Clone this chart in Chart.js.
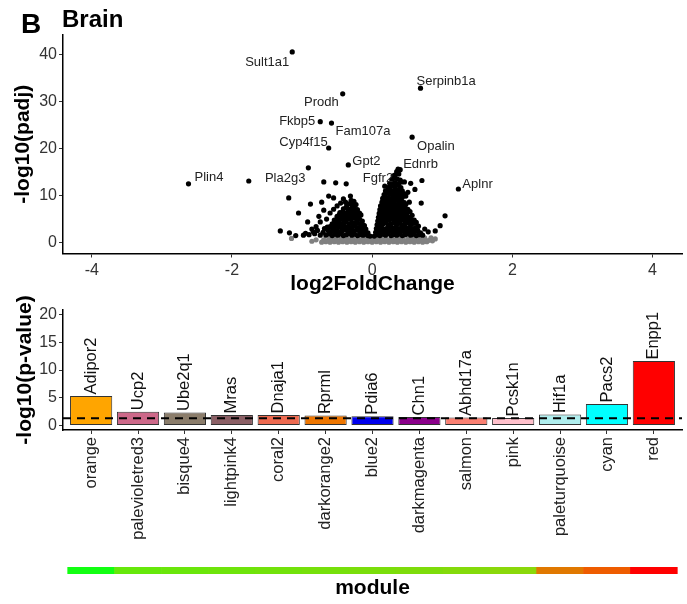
<!DOCTYPE html>
<html>
<head>
<meta charset="utf-8">
<script src="https://cdn.jsdelivr.net/npm/chart.js@4.4.0/dist/chart.umd.min.js"></script>
<style>
  body { margin: 0; background: #fff; }
  #wrap { position: relative; width: 687px; height: 604px; }
  canvas { position: absolute; left: 0; }
</style>
</head>
<body>
<div id="wrap">
  <canvas id="volcano" width="687" height="300" style="top:0px"></canvas>
  <canvas id="bars" width="687" height="265" style="top:290px"></canvas>
  <canvas id="strip" width="687" height="49" style="top:555px"></canvas>
</div>
<script>
// ---- volcano data ----
const fcTicks = [-4, -2, 0, 2, 4];
const padjTicks = [0, 10, 20, 30, 40];

const labelGenes = ['Sult1a1', 'Prodh', 'Fkbp5', 'Fam107a', 'Cyp4f15', 'Serpinb1a', 'Opalin',
                    'Gpt2', 'Ednrb', 'Fgfr2', 'Aplnr', 'Plin4', 'Pla2g3'];
const labelFC   = [-1.14, -0.42, -0.74, -0.58, -0.62, 0.69, 0.57, -0.34, 0.40, 0.30, 1.23, -2.62, -0.91];
const labelPadj = [40.5, 31.6, 25.7, 25.4, 20.1, 32.8, 22.4, 16.5, 15.5, 14.2, 11.4, 12.5, 15.9];

// significant genes (black)
const sigPoints = [
  [-1.76,13.1],[-0.69,12.9],[-0.52,12.7],[-0.37,12.5],[-1.19,9.5],[-0.88,8.2],[-0.72,8.6],[-0.62,9.9],
  [-0.55,9.5],[-0.38,8.6],[-0.31,9.9],[-1.05,6.3],[-0.92,4.4],[-1.31,2.5],[-1.18,2.1],[-1.09,1.5],
  [-0.74,4.4],[-0.69,6.9],[-0.64,3.3],[-0.84,2.3],[-0.98,1.6],
  [0.71,13.2],[0.55,12.6],[0.61,11.3],[0.51,10.7],[0.70,8.4],[1.04,5.7],[0.97,3.6],[0.90,2.5],
  [0.80,2.3],[0.75,2.9],[0.46,12.9],[0.35,15.1],[0.37,15.6],
  [-0.95,2.0],[-0.90,1.7],[-0.82,1.9],[-0.78,2.6],[-0.74,1.6],[-0.70,2.2],[-0.68,3.0],[-0.80,3.4],
  [-0.86,2.9],[-0.76,5.6],[-0.65,5.0],[-0.60,6.3],[-0.55,7.1],[-0.50,7.8],[-0.45,8.4],[-0.41,9.3],
  [-0.66,1.6],[-0.61,1.9],[-0.57,1.5],[-0.53,1.8],[-0.49,1.6],[-0.45,1.9],[-0.41,1.5],[-0.37,1.7],
  [-0.33,1.9],[-0.29,1.6],[-0.25,1.8],[-0.21,1.5],[-0.17,1.7],[-0.13,1.6],[-0.09,1.8],[-0.06,1.5],[-0.03,1.4],
  [-0.63,2.6],[-0.58,2.4],[-0.54,2.7],[-0.50,2.5],[-0.46,2.3],[-0.42,2.6],[-0.38,2.8],[-0.34,2.4],
  [-0.30,2.6],[-0.26,2.5],[-0.22,2.7],[-0.18,2.4],[-0.14,2.6],[-0.10,2.3],[-0.06,2.1],
  [-0.60,3.4],[-0.56,3.1],[-0.52,3.5],[-0.48,3.3],[-0.44,3.2],[-0.40,3.5],[-0.36,3.3],[-0.32,3.1],
  [-0.28,3.4],[-0.24,3.6],[-0.20,3.2],[-0.16,3.4],[-0.12,3.1],[-0.09,2.9],
  [-0.57,4.0],[-0.53,4.3],[-0.49,4.1],[-0.45,3.9],[-0.41,4.2],[-0.37,4.4],[-0.33,4.0],[-0.29,4.2],
  [-0.25,4.1],[-0.21,4.3],[-0.17,4.0],[-0.13,3.8],[-0.11,3.6],
  [-0.54,4.8],[-0.50,5.1],[-0.46,4.9],[-0.42,5.0],[-0.38,4.7],[-0.34,5.1],[-0.30,4.9],[-0.26,5.2],
  [-0.22,4.8],[-0.18,5.0],[-0.14,4.6],
  [-0.50,5.6],[-0.47,5.9],[-0.43,5.7],[-0.39,5.5],[-0.35,5.8],[-0.31,5.6],[-0.27,5.9],[-0.23,5.7],
  [-0.19,5.5],[-0.16,5.9],
  [-0.46,6.4],[-0.42,6.6],[-0.38,6.3],[-0.34,6.7],[-0.30,6.5],[-0.26,6.4],[-0.22,6.6],[-0.18,6.3],
  [-0.41,7.2],[-0.37,7.5],[-0.33,7.1],[-0.29,7.4],[-0.25,7.2],[-0.21,7.0],
  [-0.36,8.0],[-0.32,8.3],[-0.27,7.9],[-0.23,8.1],[-0.30,9.0],[-0.26,8.8],
  [0.03,1.4],[0.07,1.7],[0.11,1.5],[0.15,1.8],[0.19,1.6],[0.23,1.9],[0.27,1.5],[0.31,1.7],[0.35,1.6],
  [0.39,1.8],[0.43,1.5],[0.47,1.7],[0.51,1.9],[0.55,1.6],[0.59,1.8],[0.63,1.5],[0.67,1.7],[0.72,1.6],
  [0.05,2.2],[0.09,2.5],[0.13,2.3],[0.17,2.1],[0.21,2.4],[0.25,2.6],[0.29,2.3],[0.33,2.5],[0.37,2.2],
  [0.41,2.4],[0.45,2.6],[0.49,2.3],[0.53,2.5],[0.57,2.2],[0.61,2.4],[0.65,2.6],[0.69,2.1],
  [0.06,3.0],[0.10,3.3],[0.14,3.1],[0.18,2.9],[0.22,3.2],[0.26,3.4],[0.30,3.1],[0.34,3.3],[0.38,3.0],
  [0.42,3.2],[0.46,3.4],[0.50,3.1],[0.54,3.3],[0.58,3.0],[0.62,3.2],[0.66,3.5],
  [0.07,3.8],[0.11,4.1],[0.15,3.9],[0.19,4.2],[0.23,3.8],[0.27,4.0],[0.31,4.2],[0.35,3.9],[0.39,4.1],
  [0.43,3.8],[0.47,4.0],[0.51,4.2],[0.55,3.9],[0.59,4.1],[0.63,4.3],
  [0.08,4.6],[0.12,4.9],[0.16,4.7],[0.20,4.5],[0.24,4.8],[0.28,5.0],[0.32,4.6],[0.36,4.8],[0.40,4.5],
  [0.44,4.9],[0.48,4.7],[0.52,4.6],[0.56,4.9],[0.60,4.8],
  [0.09,5.4],[0.13,5.7],[0.17,5.5],[0.21,5.3],[0.25,5.6],[0.29,5.8],[0.33,5.4],[0.37,5.6],[0.41,5.3],
  [0.45,5.7],[0.49,5.5],[0.53,5.4],[0.57,5.8],
  [0.10,6.2],[0.14,6.5],[0.18,6.3],[0.22,6.1],[0.26,6.4],[0.30,6.6],[0.34,6.2],[0.38,6.4],[0.42,6.1],
  [0.46,6.5],[0.50,6.3],[0.54,6.6],
  [0.11,7.0],[0.15,7.3],[0.19,7.1],[0.23,6.9],[0.27,7.2],[0.31,7.4],[0.35,7.0],[0.39,7.2],[0.43,6.9],
  [0.47,7.3],[0.51,7.1],
  [0.12,7.8],[0.16,8.1],[0.20,7.9],[0.24,7.7],[0.28,8.0],[0.32,8.2],[0.36,7.8],[0.40,8.0],[0.44,7.7],
  [0.48,8.1],[0.53,8.6],
  [0.14,8.6],[0.18,8.9],[0.22,8.7],[0.26,8.5],[0.30,8.8],[0.34,9.0],[0.38,8.6],[0.42,8.8],[0.46,8.5],
  [0.15,9.4],[0.19,9.7],[0.23,9.5],[0.27,9.3],[0.31,9.6],[0.35,9.8],[0.39,9.4],[0.43,9.6],[0.48,9.9],
  [0.17,10.2],[0.21,10.5],[0.25,10.3],[0.29,10.1],[0.33,10.4],[0.37,10.6],[0.41,10.2],[0.45,10.4],
  [0.19,11.0],[0.23,11.3],[0.27,11.1],[0.31,10.9],[0.35,11.2],[0.39,11.4],[0.43,11.0],
  [0.18,12.0],[0.24,11.8],[0.28,12.1],[0.32,11.9],[0.36,12.2],[0.41,11.7],
  [0.25,12.6],[0.29,12.9],[0.33,12.7],[0.38,12.5],[0.42,12.9],
  [0.28,13.4],[0.32,13.7],[0.36,13.5],[0.40,13.3],[0.33,14.4],[0.38,14.6]
];

// non-significant genes (grey)
const nsPoints = [
  [-1.15,0.9],[-0.86,0.3],[-0.80,0.6],[0.86,0.4],[0.90,0.8],[0.84,1.0],
  [-0.72,0.1],[-0.66,0.2],[-0.60,0.1],[-0.54,0.2],[-0.48,0.1],[-0.42,0.2],[-0.36,0.1],[-0.30,0.2],
  [-0.24,0.1],[-0.18,0.2],[-0.12,0.1],[-0.06,0.2],[0.00,0.1],[0.06,0.2],[0.12,0.1],[0.18,0.2],
  [0.24,0.1],[0.30,0.2],[0.36,0.1],[0.42,0.2],[0.48,0.1],[0.54,0.2],[0.60,0.1],[0.66,0.2],[0.72,0.1],[0.78,0.2],
  [-0.69,0.6],[-0.63,0.5],[-0.57,0.6],[-0.51,0.5],[-0.45,0.6],[-0.39,0.5],[-0.33,0.6],[-0.27,0.5],
  [-0.21,0.6],[-0.15,0.5],[-0.09,0.6],[-0.03,0.5],[0.03,0.6],[0.09,0.5],[0.15,0.6],[0.21,0.5],
  [0.27,0.6],[0.33,0.5],[0.39,0.6],[0.45,0.5],[0.51,0.6],[0.57,0.5],[0.63,0.6],[0.69,0.5],[0.75,0.6],[0.81,0.5],
  [-0.60,1.0],[-0.52,0.9],[-0.44,1.0],[-0.36,0.9],[-0.28,1.0],[-0.20,0.9],[-0.12,1.0],[-0.05,1.1],
  [0.00,1.0],[0.05,1.1],[0.12,1.0],[0.20,0.9],[0.28,1.0],[0.36,0.9],[0.44,1.0],[0.52,0.9],[0.60,1.0],[0.68,0.9],[0.75,1.0]
];

// ---- module bar data ----
const modules = ['orange', 'palevioletred3', 'bisque4', 'lightpink4', 'coral2', 'darkorange2', 'blue2',
                 'darkmagenta', 'salmon', 'pink', 'paleturquoise', 'cyan', 'red'];
const hubGenes = ['Adipor2', 'Ucp2', 'Ube2q1', 'Mras', 'Dnaja1', 'Rprml', 'Pdia6', 'Chn1', 'Abhd17a',
                  'Pcsk1n', 'Hif1a', 'Pacs2', 'Enpp1'];
const moduleP = [5.33, 2.5, 2.35, 1.92, 1.92, 1.8, 1.68, 1.56, 1.44, 1.38, 1.98, 3.9, 11.6];
const pTicks = [0, 5, 10, 15, 20];
const pThreshold = 1.3;
const stripLevel = [1, 1, 1, 1, 1, 1, 1, 1, 1, 1, 1, 1, 1];

// ---- styles ----
const FONT = "'Liberation Sans', Arial, sans-serif";
Chart.defaults.font.family = FONT;

const moduleFill = {
  orange: '#FFA500', palevioletred3: '#CD6889', bisque4: '#8B7D6B', lightpink4: '#8B5F65',
  coral2: '#EE6A50', darkorange2: '#EE7600', blue2: '#0000EE', darkmagenta: '#8B008B',
  salmon: '#FA8072', pink: '#FFC0CB', paleturquoise: '#AFEEEE', cyan: '#00FFFF', red: '#FF0000'
};
const stripFill = ['#12FF12', '#66E80A', '#6AE60A', '#6EE40A', '#72E20A', '#76E00A', '#7ADE0A',
                   '#7EDC0A', '#84DA0A', '#8AD80A', '#E07800', '#EE5C00', '#FF0000'];
// label nudges in pixels from the point: [dx, dy, align]
const labelNudge = [[-3,10,'right'],[-4,9,'right'],[-5,0,'right'],[4,8,'left'],[-1,-6,'right'],
                    [-4,-7,'left'],[5,9,'left'],[4,-4,'left'],[3,-5,'left'],[0,3,'right'],
                    [4,-5,'left'],[6,-6,'left'],[-3,11,'right']];

const tickFont = { size: 16 };
const titleFont = { size: 21, weight: 'bold' };
const axisGrid = { display: true, drawOnChartArea: false, drawTicks: true, tickLength: 4, color: '#333', lineWidth: 1, offset: false };
const axisBorder = { display: true, color: '#000', width: 1.5 };

// volcano annotations + panel titles
const volcanoText = {
  id: 'volcanoText',
  afterDatasetsDraw(chart) {
    const { ctx, scales: { x, y } } = chart;
    ctx.save();
    ctx.font = '13px ' + FONT;
    ctx.fillStyle = '#222';
    ctx.textBaseline = 'middle';
    labelGenes.forEach((g, i) => {
      const [dx, dy, align] = labelNudge[i];
      ctx.textAlign = align;
      ctx.fillText(g, x.getPixelForValue(labelFC[i]) + dx, y.getPixelForValue(labelPadj[i]) + dy);
    });
    ctx.fillStyle = '#000';
    ctx.textAlign = 'left';
    ctx.textBaseline = 'alphabetic';
    ctx.font = 'bold 28px ' + FONT;
    ctx.fillText('B', 21, 33);
    ctx.font = 'bold 24px ' + FONT;
    ctx.fillText('Brain', 62, 27);
    ctx.restore();
  }
};

new Chart(document.getElementById('volcano'), {
  type: 'scatter',
  data: {
    datasets: [
      {
        data: labelFC.map((v, i) => [v, labelPadj[i]]).concat(sigPoints).map(([x, y]) => ({ x, y })),
        pointBackgroundColor: '#000', pointBorderWidth: 0, pointRadius: 2.6
      },
      {
        data: nsPoints.map(([x, y]) => ({ x, y })),
        pointBackgroundColor: '#808080', pointBorderWidth: 0, pointRadius: 2.6
      }
    ]
  },
  options: {
    responsive: false, animation: false, events: [],
    layout: { padding: { top: 35, right: 5, left: 0, bottom: 0 } },
    plugins: { legend: { display: false }, tooltip: { enabled: false } },
    scales: {
      x: {
        type: 'linear', min: -4.41, max: 4.42,
        afterBuildTicks: s => { s.ticks = fcTicks.map(v => ({ value: v })); },
        afterFit: s => { s.height = 46.5; },
        grid: axisGrid, border: axisBorder,
        ticks: { font: tickFont, color: '#333', padding: 3 },
        title: { display: true, text: 'log2FoldChange', font: titleFont, color: '#000', padding: { top: 0, bottom: 3 } }
      },
      y: {
        type: 'linear', min: -2.3, max: 44.1,
        afterBuildTicks: s => { s.ticks = padjTicks.map(v => ({ value: v })); },
        afterFit: s => { s.width = 63; },
        grid: axisGrid, border: axisBorder,
        ticks: { font: tickFont, color: '#333', padding: 2 },
        title: { display: true, text: '-log10(padj)', font: titleFont, color: '#000', padding: { top: 11, bottom: 0 } }
      }
    }
  },
  plugins: [volcanoText]
});

// hub gene names above each bar
const barText = {
  id: 'barText',
  afterDatasetsDraw(chart) {
    const { ctx } = chart;
    const meta = chart.getDatasetMeta(1);
    ctx.save();
    ctx.font = '16.5px ' + FONT;
    ctx.fillStyle = '#111';
    ctx.textAlign = 'left';
    ctx.textBaseline = 'middle';
    meta.data.forEach((bar, i) => {
      ctx.save();
      ctx.translate(bar.x, bar.y - 1.5);
      ctx.rotate(-Math.PI / 2);
      ctx.fillText(hubGenes[i], 0, 0);
      ctx.restore();
    });
    ctx.restore();
  }
};

new Chart(document.getElementById('bars'), {
  type: 'bar',
  data: {
    datasets: [
      {
        type: 'line',
        data: [{ x: 0.4, y: pThreshold }, { x: 13.6, y: pThreshold }],
        borderColor: '#000', borderWidth: 2, borderDash: [8, 6], pointRadius: 0
      },
      {
        type: 'bar',
        data: modules.map((m, i) => ({ x: i + 1, y: moduleP[i] })),
        backgroundColor: modules.map(m => moduleFill[m]),
        borderColor: '#333', borderWidth: 1, borderSkipped: false,
        barPercentage: 0.9, categoryPercentage: 1
      }
    ]
  },
  options: {
    responsive: false, animation: false, events: [],
    layout: { padding: { top: 20, right: 5, left: 0, bottom: 0 } },
    plugins: { legend: { display: false }, tooltip: { enabled: false } },
    scales: {
      x: {
        type: 'linear', min: 0.4, max: 13.6, offset: false,
        afterBuildTicks: s => { s.ticks = modules.map((m, i) => ({ value: i + 1 })); },
        afterFit: s => { s.height = 125; },
        grid: axisGrid, border: axisBorder,
        ticks: {
          font: { size: 16.5 }, color: '#222', padding: 3, autoSkip: false,
          minRotation: 90, maxRotation: 90,
          callback: v => modules[v - 1]
        }
      },
      y: {
        type: 'linear', min: -0.8, max: 20.8,
        afterBuildTicks: s => { s.ticks = pTicks.map(v => ({ value: v })); },
        afterFit: s => { s.width = 63; },
        grid: axisGrid, border: axisBorder,
        ticks: { font: tickFont, color: '#333', padding: 2 },
        title: { display: true, text: '-log10(p-value)', font: titleFont, color: '#000', padding: { top: 13, bottom: 0 } }
      }
    }
  },
  plugins: [barText]
});

// module colour strip
new Chart(document.getElementById('strip'), {
  type: 'bar',
  data: {
    datasets: [{
      data: modules.map((m, i) => ({ x: i + 1, y: stripLevel[i] })),
      backgroundColor: stripFill, borderWidth: 0,
      barPercentage: 1, categoryPercentage: 1
    }]
  },
  options: {
    responsive: false, animation: false, events: [],
    layout: { padding: { top: 12, right: 5, left: 63, bottom: 0 } },
    plugins: { legend: { display: false }, tooltip: { enabled: false } },
    scales: {
      x: {
        type: 'linear', min: 0.4, max: 13.6, offset: false,
        afterBuildTicks: s => { s.ticks = modules.map((m, i) => ({ value: i + 1 })); },
        afterFit: s => { s.height = 30; },
        grid: { display: false }, border: { display: false },
        ticks: { display: false },
        title: { display: true, text: 'module', font: titleFont, color: '#000', padding: { top: 0, bottom: 3 } }
      },
      y: { display: false, min: 0, max: 1 }
    }
  }
});
</script>
</body>
</html>
